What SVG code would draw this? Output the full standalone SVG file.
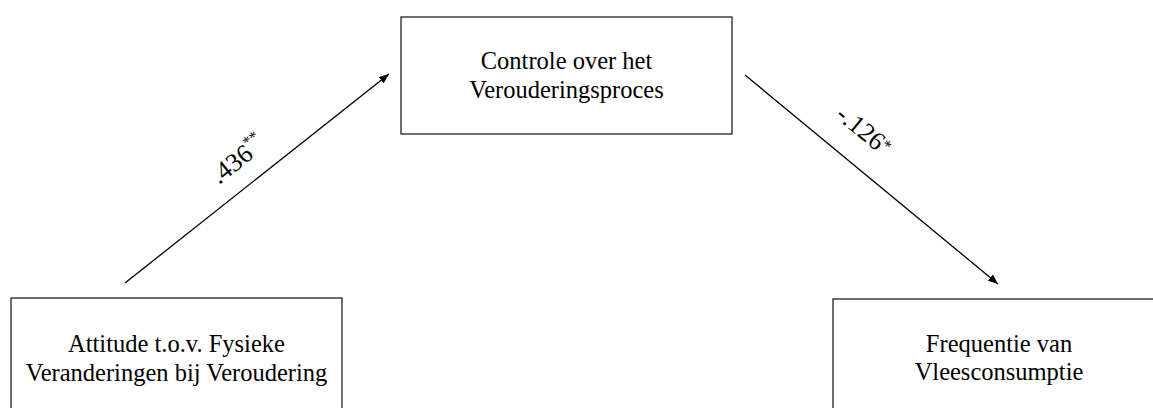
<svg xmlns="http://www.w3.org/2000/svg" width="1153" height="408" viewBox="0 0 1153 408">
<style>
.box{fill:#fff;stroke:#222;stroke-width:1.3}
.t{font-family:"Liberation Serif","Times New Roman",serif;font-size:24.5px;fill:#000;text-anchor:middle}
.lbl{font-family:"Liberation Serif","Times New Roman",serif;font-size:26px;fill:#000}
.sup{font-size:16px}
.edge{stroke:#000;stroke-width:1.3;fill:none}
</style>
<defs>
<marker id="arr" viewBox="0 0 10 8" refX="10" refY="4" markerWidth="10" markerHeight="8" markerUnits="userSpaceOnUse" orient="auto">
<path d="M0,0 L10,4 L0,8 Z" fill="#000"/>
</marker>
</defs>
<rect width="1153" height="408" fill="#fff"/>
<g id="node-controle">
<rect class="box" x="401" y="17" width="331" height="117"/>
<text class="t" x="566.5" y="69">Controle over het</text>
<text class="t" x="566.5" y="98">Verouderingsproces</text>
</g>
<g id="node-attitude">
<rect class="box" x="11" y="298" width="331" height="130"/>
<text class="t" x="176.5" y="352">Attitude t.o.v. Fysieke</text>
<text class="t" x="176.5" y="381">Veranderingen bij Veroudering</text>
</g>
<g id="node-frequentie">
<rect class="box" x="833" y="299" width="332" height="130"/>
<text class="t" x="999" y="352">Frequentie van</text>
<text class="t" x="999" y="380">Vleesconsumptie</text>
</g>
<g id="connectors">
<line class="edge" x1="125" y1="283" x2="389" y2="74" marker-end="url(#arr)"/>
<line class="edge" x1="745" y1="75" x2="998" y2="284" marker-end="url(#arr)"/>
<text class="lbl" transform="translate(219,185) rotate(-38.4)">.436<tspan class="sup" dy="-11">**</tspan></text>
<text class="lbl" transform="translate(834.5,117) rotate(39.6)">-.126<tspan class="sup" dy="-6">*</tspan></text>
</g>
</svg>
